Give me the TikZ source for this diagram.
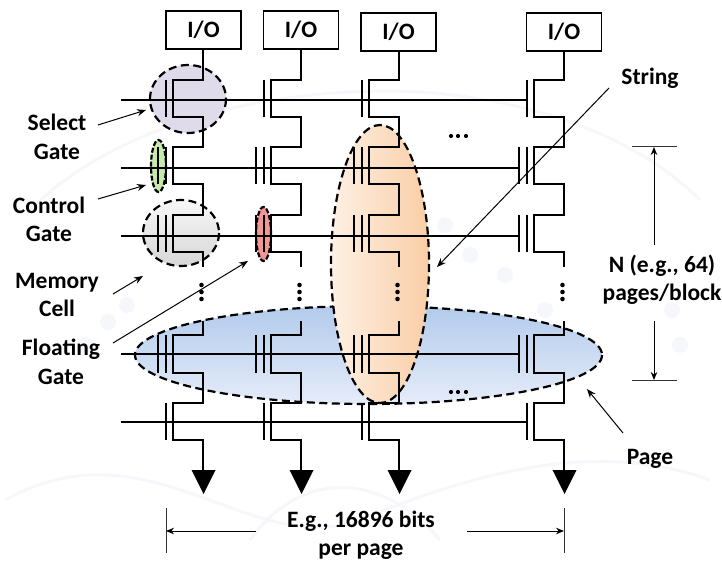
\documentclass[tikz,border=0pt]{standalone}
\usepackage{fontspec}
\setmainfont{Carlito}
\usetikzlibrary{arrows.meta,calc}
\definecolor{wm}{HTML}{F6F7FA}
\tikzset{
  x=1pt,y=-1pt,
  lab/.style={font=\fontsize{23.5}{28.5}\selectfont\bfseries,align=center,inner sep=0pt},
  iobox/.style={draw,line width=1.5pt,minimum width=75pt,minimum height=38pt,inner sep=0pt,font=\fontsize{23.5}{26}\selectfont\bfseries},
  wire/.style={line width=1.9pt,line join=miter},
  wl/.style={line width=1.4pt},
  bar/.style={line width=1.5pt},
  dashe/.style={draw=black,line width=2.2pt,dash pattern=on 8pt off 4.5pt},
  thin arrow/.style={line width=1pt,-{Stealth[length=9pt,width=7pt]}},
  dim/.style={line width=1pt,-{Stealth[length=8pt,width=6.5pt]}},
  tick/.style={line width=1pt,draw=black!80},
  dotn/.style={circle,fill=black,inner sep=0pt,minimum size=4.6pt},
  gnd/.style={fill=black},
  wmk/.style={draw=wm,line width=3pt},
}
\newcommand{\stringcol}[4]{% name, drain x, io x, io y
  \node[iobox] (#1) at (#3,#4) {I/O};
  \draw[wire] (#1.south -| {#2,0}) -- (#2,80) -- (#2-30,80) -- (#2-30,117) -- (#2,117)
     -- (#2,147) -- (#2-30,147) -- (#2-30,184) -- (#2,184)
     -- (#2,215) -- (#2-30,215) -- (#2-30,252) -- (#2,252) -- (#2,267);
  \draw[wire] (#2,321) -- (#2,335) -- (#2-30,335) -- (#2-30,373) -- (#2,373)
     -- (#2,403) -- (#2-30,403) -- (#2-30,440) -- (#2,440) -- (#2,472);
  \draw[bar] (#2-37,80) -- (#2-37,117);
  \draw[bar] (#2-37,403) -- (#2-37,440);
  \foreach \yy/\yb in {147/184,215/252,335/373}{
    \draw[bar] (#2-37,\yy) -- (#2-37,\yb);
    \draw[bar] (#2-45,\yy) -- (#2-45,\yb);
  }
  \fill[gnd] (#2-11.5,470) -- (#2+12.5,470) -- (#2+0.5,494) -- cycle;
  \foreach \yy in {285,292,299}{\node[dotn] at (#2-1.5,\yy) {};}
}
\begin{document}
\begin{tikzpicture}
\useasboundingbox (0,0) rectangle (722,561);
% faint watermark
\begin{scope}
  \draw[wmk] (30,210) .. controls (120,120) and (280,85) .. (420,92) .. controls (540,100) and (640,140) .. (700,200);
  \draw[wmk] (5,500) .. controls (150,420) and (250,560) .. (360,520) .. controls (480,470) and (600,440) .. (710,480);
  \draw[wmk] (250,540) .. controls (300,470) and (380,470) .. (440,540);
  \foreach \p in {(127,305),(108,322),(85,345),(445,225),(470,255),(505,275),(545,310),(672,310),(680,345)}{\fill[wm] \p circle (8);}
\end{scope}
% coloured ellipses
\shade[top color={rgb,255:red,178;green,203;blue,236},bottom color={rgb,255:red,230;green,236;blue,249}] (368.5,355) ellipse [x radius=233.5,y radius=49];
\draw[dashe] (368.5,355) ellipse [x radius=233.5,y radius=49];
\shade[left color={rgb,255:red,253;green,240;blue,228},right color={rgb,255:red,250;green,206;blue,166}] (380,264) ellipse [x radius=49,y radius=139];
\draw[dashe] (380,264) ellipse [x radius=49,y radius=139];
\fill[fill={rgb,255:red,224;green,219;blue,234}] (188,99) ellipse [x radius=38,y radius=34];
\draw[dashe] (188,99) ellipse [x radius=38,y radius=34];
\fill[fill={rgb,255:red,198;green,234;blue,170}] (158.5,166) ellipse [x radius=7.5,y radius=26];
\draw[dashe,dash pattern=on 5pt off 2pt] (158.5,166) ellipse [x radius=7.5,y radius=26];
\shade[top color={rgb,255:red,248;green,248;blue,248},bottom color={rgb,255:red,214;green,214;blue,214}] (181,233) ellipse [x radius=38,y radius=33];
\draw[dashe] (181,233) ellipse [x radius=38,y radius=33];
\fill[fill={rgb,255:red,245;green,150;blue,150}] (263.5,234) ellipse [x radius=7.5,y radius=27];
\draw[dashe,dash pattern=on 5pt off 2pt] (263.5,234) ellipse [x radius=7.5,y radius=27];
% word lines
\foreach \n/\y/\e in {1/100/527,2/168/519,3/236/519,4/354/519,5/422/527}{
  \coordinate (wls\n) at (121,\y);
  \coordinate (wle\n) at (\e,\y);
  \draw[wl] (wls\n) -- (wle\n);
}
% strings
\stringcol{ioa}{203}{203.5}{30}
\stringcol{iob}{301}{301}{30}
\stringcol{ioc}{399}{398.5}{32}
\stringcol{iod}{564}{564}{32}
% horizontal dots
\foreach \x in {451,458,466}{
  \node[dotn,minimum size=4.2pt] at (\x,136) {};
  \node[dotn,minimum size=4.2pt] at (\x,392) {};
}
% labels
\node[lab] (sel) at (57,137) {Select\\Gate};
\node[lab] (ctl) at (49,219.5) {Control\\Gate};
\node[lab] (mem) at (57,295) {Memory\\Cell};
\node[lab] (flo) at (61,362) {Floating\\Gate};
\node[lab] (str) at (650,78) {String};
\node[lab] (nnn) at (662,280) {N (e.g., 64)\\pages/block};
\node[lab] (pag) at (650,459) {Page};
\node[lab] (eg) at (361,535) {E.g., 16896 bits\\per page};
% pointers
\coordinate (psel) at (146,110);
\coordinate (pctl) at (146,185);
\coordinate (pmem) at (143,276);
\coordinate (pflo) at (248,261);
\coordinate (pstr) at (437,267);
\coordinate (ppag) at (587,389);
\draw[thin arrow] (98,125) -- (psel);
\draw[thin arrow] (98,199) -- (pctl);
\draw[thin arrow] (113,294) -- (pmem);
\draw[thin arrow] (113,343) -- (pflo);
\draw[thin arrow] (609,88) -- (pstr);
\draw[thin arrow] (623,433) -- (ppag);
% dimensions
\coordinate (na) at (632,147); \coordinate (nb) at (677,147);
\coordinate (nc) at (632,380); \coordinate (nd) at (677,380);
\draw[tick] (na) -- (nb); \draw[tick] (nc) -- (nd);
\draw[dim] (654,245) -- (654,147);
\draw[dim] (654,321) -- (654,380);
\coordinate (ba) at (166,508); \coordinate (bb) at (166,553);
\coordinate (bc) at (564,508); \coordinate (bd) at (564,553);
\draw[tick] (ba) -- (bb); \draw[tick] (bc) -- (bd);
\draw[dim] (256,531) -- (166,531);
\draw[dim] (467,531) -- (564,531);
\end{tikzpicture}
\end{document}
